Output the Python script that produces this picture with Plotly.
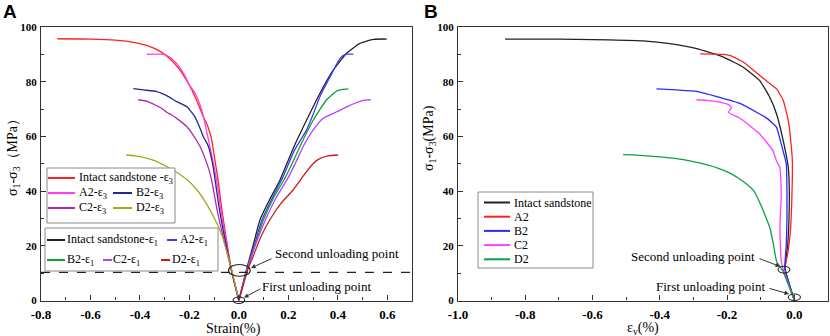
import plotly.graph_objects as go

# ---------------- data ----------------
# Panel A : lateral strain branch (epsilon_3), stress sigma1-sigma3 (MPa)
a_intact_e3_x = [0, -0.03, -0.055, -0.07, -0.084, -0.098, -0.11, -0.125, -0.145, -0.17, -0.19, -0.215, -0.24, -0.28, -0.32, -0.37, -0.42, -0.50, -0.60, -0.734]
a_intact_e3_y = [0, 11, 25, 34, 44, 52, 58.8, 63.5, 67.5, 73, 77, 81, 84.5, 88.5, 91.2, 93.2, 94.3, 95.2, 95.6, 95.7]
a_A2_e3_x = [0, -0.03, -0.058, -0.074, -0.09, -0.105, -0.123, -0.14, -0.155, -0.175, -0.2, -0.22, -0.25, -0.28, -0.305, -0.373]
a_A2_e3_y = [0, 11, 25, 34, 44, 51, 58.8, 66, 71, 75.5, 78.8, 82.5, 86.5, 89, 90, 90]
a_B2_e3_x = [0, -0.03, -0.062, -0.08, -0.096, -0.103, -0.123, -0.144, -0.157, -0.18, -0.211, -0.251, -0.29, -0.332, -0.386, -0.427]
a_B2_e3_y = [0, 11, 25, 34, 44, 48.4, 56.3, 60, 63, 67.5, 70.9, 72.7, 74.8, 76.4, 77, 77.5]
a_C2_e3_x = [0, -0.03, -0.068, -0.09, -0.11, -0.123, -0.157, -0.185, -0.211, -0.25, -0.275, -0.292, -0.312, -0.332, -0.37, -0.407]
a_C2_e3_y = [0, 11, 25, 34, 44, 48.4, 56.3, 60.5, 63.6, 66.5, 68, 68.8, 70.3, 71.2, 72.8, 73.4]
a_D2_e3_x = [0, -0.028, -0.045, -0.063, -0.08, -0.103, -0.135, -0.17, -0.21, -0.25, -0.292, -0.33, -0.373, -0.42, -0.456]
a_D2_e3_y = [0, 11, 16.5, 22.3, 26.5, 30.8, 36, 40.5, 44.2, 46.8, 49, 50.8, 52.1, 52.9, 53.2]

# Panel A : axial strain branch (epsilon_1)
a_intact_e1_x = [0, 0.03, 0.06, 0.086, 0.125, 0.166, 0.22, 0.274, 0.328, 0.382, 0.436, 0.49, 0.544, 0.598]
a_intact_e1_y = [0, 11, 21, 29.6, 37, 44, 55.7, 66, 75.8, 84.3, 90.4, 94, 95.5, 95.6]
a_A2_e1_x = [0, 0.031, 0.065, 0.094, 0.135, 0.175, 0.225, 0.274, 0.3, 0.328, 0.37, 0.409, 0.43, 0.463]
a_A2_e1_y = [0, 11, 21, 29.6, 37.5, 44.5, 55, 62.4, 68, 74.6, 82, 88.5, 90, 90.1]
a_B2_e1_x = [0, 0.032, 0.068, 0.1, 0.14, 0.185, 0.215, 0.247, 0.301, 0.355, 0.396, 0.42, 0.443]
a_B2_e1_y = [0, 11, 21, 29.6, 37.5, 44.5, 50, 56.3, 66, 73.4, 76.6, 77.2, 77.4]
a_C2_e1_x = [0, 0.033, 0.07, 0.108, 0.15, 0.2, 0.23, 0.26, 0.301, 0.342, 0.396, 0.44, 0.477, 0.51, 0.533]
a_C2_e1_y = [0, 11, 21, 29.6, 37.5, 45, 50.5, 56.3, 62.4, 66.7, 69, 71, 72.4, 73.3, 73.4]
a_D2_e1_x = [0, 0.035, 0.058, 0.09, 0.126, 0.17, 0.22, 0.26, 0.29, 0.32, 0.36, 0.402]
a_D2_e1_y = [0, 11, 16.2, 23.5, 29.6, 35.5, 40.5, 45.5, 49, 51.5, 52.9, 53.2]

# Panel B : volumetric strain
b_intact_x = [0, -0.028, -0.02, -0.016, -0.015, -0.018, -0.033, -0.053, -0.073, -0.103, -0.152, -0.211, -0.29, -0.37, -0.449, -0.55, -0.65, -0.75, -0.86]
b_intact_y = [0, 11.5, 20, 30, 40, 48.6, 58.4, 68.2, 74.3, 80.4, 85.3, 89, 92.1, 93.9, 94.9, 95.3, 95.5, 95.6, 95.6]
b_A2_x = [0, -0.028, -0.02, -0.012, -0.008, -0.006, -0.006, -0.008, -0.018, -0.033, -0.053, -0.078, -0.103, -0.152, -0.19, -0.211, -0.24, -0.28]
b_A2_y = [0, 11.5, 17, 25, 35, 45, 51, 54.8, 65.8, 73.1, 77.4, 79.8, 82.3, 87.2, 89.5, 90, 90.1, 90.2]
b_B2_x = [0, -0.028, -0.024, -0.022, -0.022, -0.024, -0.039, -0.053, -0.08, -0.103, -0.162, -0.222, -0.291, -0.35, -0.41]
b_B2_y = [0, 12, 20.5, 30, 40, 49.9, 57.2, 63.3, 66.5, 68.2, 72.1, 74.3, 76.5, 77, 77.4]
b_C2_x = [0, -0.032, -0.039, -0.043, -0.039, -0.043, -0.053, -0.064, -0.103, -0.152, -0.167, -0.196, -0.187, -0.196, -0.222, -0.26, -0.291]
b_C2_y = [0, 11, 14.4, 26.6, 38.9, 48.6, 51, 54.8, 60.9, 65.8, 67, 68.8, 70.6, 71.6, 72.5, 73.2, 73.4]
b_D2_x = [0, -0.035, -0.053, -0.063, -0.073, -0.085, -0.1, -0.12, -0.152, -0.19, -0.23, -0.28, -0.33, -0.39, -0.45, -0.509]
b_D2_y = [0, 11, 14.4, 21, 26.6, 30.5, 35, 40, 43.5, 46.5, 48.5, 50.2, 51.5, 52.4, 53, 53.3]

second_unloading_level = 10.3

a_xticks = [-0.8, -0.6, -0.4, -0.2, 0.0, 0.2, 0.4, 0.6]
a_xticklabels = ["-0.8", "-0.6", "-0.4", "-0.2", "0.0", "0.2", "0.4", "0.6"]
b_xticks = [-1.0, -0.8, -0.6, -0.4, -0.2, 0.0]
b_xticklabels = ["-1.0", "-0.8", "-0.6", "-0.4", "-0.2", "0.0"]
yticks = [0, 20, 40, 60, 80, 100]
yticklabels = ["0", "20", "40", "60", "80", "100"]

a_series = [
    ("Intact sandstone -ε<sub>3</sub>", a_intact_e3_x, a_intact_e3_y, "#ff2020"),
    ("A2-ε<sub>3</sub>", a_A2_e3_x, a_A2_e3_y, "#ff3cf0"),
    ("B2-ε<sub>3</sub>", a_B2_e3_x, a_B2_e3_y, "#25259a"),
    ("C2-ε<sub>3</sub>", a_C2_e3_x, a_C2_e3_y, "#b02cae"),
    ("D2-ε<sub>3</sub>", a_D2_e3_x, a_D2_e3_y, "#a5a51e"),
    ("Intact sandstone-ε<sub>1</sub>", a_intact_e1_x, a_intact_e1_y, "#222222"),
    ("A2-ε<sub>1</sub>", a_A2_e1_x, a_A2_e1_y, "#3a3aff"),
    ("B2-ε<sub>1</sub>", a_B2_e1_x, a_B2_e1_y, "#10a030"),
    ("C2-ε<sub>1</sub>", a_C2_e1_x, a_C2_e1_y, "#b440ff"),
    ("D2-ε<sub>1</sub>", a_D2_e1_x, a_D2_e1_y, "#c41e1e"),
]
b_series = [
    ("Intact sandstone", b_intact_x, b_intact_y, "#222222"),
    ("A2", b_A2_x, b_A2_y, "#ff2020"),
    ("B2", b_B2_x, b_B2_y, "#2a2aff"),
    ("C2", b_C2_x, b_C2_y, "#ff40ff"),
    ("D2", b_D2_x, b_D2_y, "#10a040"),
]

# ---------------- geometry ----------------
W, H = 830, 336
A_L, A_R = 41, 412
B_L, B_R = 458, 828
P_T, P_B = 27, 300.5
A_RANGE = [-0.8, 0.7]
B_RANGE = [-1.0, 0.1]
Y_RANGE = [0, 100]
SERIF = "Liberation Serif, Times New Roman, DejaVu Serif, serif"


def px(x):
    return x / W


def py(y):
    return 1 - y / H


def a_paper_x(v):
    return px(A_L + (v - A_RANGE[0]) / (A_RANGE[1] - A_RANGE[0]) * (A_R - A_L))


def b_paper_x(v):
    return px(B_L + (v - B_RANGE[0]) / (B_RANGE[1] - B_RANGE[0]) * (B_R - B_L))


def paper_y(v):
    return py(P_B - (v - Y_RANGE[0]) / (Y_RANGE[1] - Y_RANGE[0]) * (P_B - P_T))


fig = go.Figure()
for name, xs, ys, col in a_series:
    fig.add_trace(go.Scatter(x=xs, y=ys, mode="lines", name=name,
                             line=dict(color=col, width=1.3, shape="spline", smoothing=0.5),
                             xaxis="x", yaxis="y", showlegend=False, hoverinfo="skip"))
for name, xs, ys, col in b_series:
    fig.add_trace(go.Scatter(x=xs, y=ys, mode="lines", name=name,
                             line=dict(color=col, width=1.3, shape="spline", smoothing=0.4),
                             xaxis="x2", yaxis="y2", showlegend=False, hoverinfo="skip"))

axis_common = dict(showline=True, linecolor="#333333", linewidth=1.3, mirror=True,
                   ticks="inside", ticklen=5, tickwidth=1.1, tickcolor="#333333",
                   showgrid=False, zeroline=False, automargin=False)
xfont = dict(family=SERIF, size=13, color="black", weight="bold")
yfont = dict(family=SERIF, size=11, color="black", weight="bold")
minor_x = dict(tickmode="linear", tick0=0, dtick=0.1, ticks="inside", ticklen=3,
               tickcolor="#333333", showgrid=False)
minor_y = dict(tickmode="linear", tick0=0, dtick=10, ticks="inside", ticklen=3,
               tickcolor="#333333", showgrid=False)

fig.update_layout(
    width=W, height=H, margin=dict(l=0, r=0, t=0, b=0, autoexpand=False),
    paper_bgcolor="white", plot_bgcolor="white", showlegend=False,
    font=dict(family=SERIF),
    xaxis=dict(domain=[px(A_L), px(A_R)], range=A_RANGE, anchor="y",
               tickmode="array", tickvals=a_xticks, ticktext=a_xticklabels, tickfont=xfont,
               ticklabelstandoff=2, minor=minor_x, **axis_common),
    yaxis=dict(domain=[py(P_B), py(P_T)], range=Y_RANGE, anchor="x",
               tickmode="array", tickvals=yticks, ticktext=yticklabels, tickfont=yfont,
               ticklabelstandoff=1, minor=minor_y, **axis_common),
    xaxis2=dict(domain=[px(B_L), px(B_R)], range=B_RANGE, anchor="y2",
                tickmode="array", tickvals=b_xticks, ticktext=b_xticklabels, tickfont=xfont,
                ticklabelstandoff=2, minor=minor_x, **axis_common),
    yaxis2=dict(domain=[py(P_B), py(P_T)], range=Y_RANGE, anchor="x2",
                tickmode="array", tickvals=yticks, ticktext=yticklabels, tickfont=yfont,
                ticklabelstandoff=1, minor=minor_y, **axis_common),
)

shapes = []
annotations = []

# dashed level of the second unloading point (panel A)
shapes.append(dict(type="line", xref="x domain", yref="y", x0=0, x1=1,
                   y0=second_unloading_level, y1=second_unloading_level,
                   line=dict(color="#222222", width=1.4, dash="dash")))


def ellipse(fx, cx, cy, w, h):
    shapes.append(dict(type="circle", xref="paper", yref="paper",
                       x0=fx(cx - w / 2), x1=fx(cx + w / 2),
                       y0=paper_y(cy - h / 2), y1=paper_y(cy + h / 2),
                       line=dict(color="#222222", width=1.1)))


ellipse(a_paper_x, 0.002, 11.0, 0.088, 4.3)
ellipse(a_paper_x, 0.0, 0.1, 0.047, 2.4)
ellipse(b_paper_x, -0.031, 11.3, 0.035, 2.5)
ellipse(b_paper_x, 0.0, 1.2, 0.036, 2.4)


def note(text, x_px, y_px):
    annotations.append(dict(text=text, xref="paper", yref="paper", x=px(x_px), y=py(y_px),
                            xanchor="left", yanchor="middle", showarrow=False, borderpad=0,
                            font=dict(family=SERIF, size=13, color="black")))


def arrow(head, tail):
    annotations.append(dict(text="", xref="paper", yref="paper", x=px(head[0]), y=py(head[1]),
                            ax=tail[0] - head[0], ay=tail[1] - head[1], axref="pixel", ayref="pixel",
                            showarrow=True, arrowhead=2, arrowsize=0.9, arrowwidth=1,
                            arrowcolor="#333333", standoff=0, startstandoff=0))


note("Second unloading point", 274, 253)
arrow((251, 268), (273, 258))
note("First unloading point", 261, 286)
arrow((244, 297.5), (262, 288))
note("Second unloading point", 630, 256)
arrow((780, 266.5), (758, 258))
note("First unloading point", 655, 286)
arrow((789, 294), (768, 288))


# ---------------- legends (drawn boxes with line samples) ----------------
def legend_box(x0, y0, x1, y1):
    shapes.append(dict(type="rect", xref="paper", yref="paper", x0=px(x0), x1=px(x1),
                       y0=py(y1), y1=py(y0), line=dict(color="#8a8a8a", width=1),
                       fillcolor="white", layer="above"))


def legend_item(series, line_x0, line_x1, y_px, text_x):
    name, _, _, col = series
    shapes.append(dict(type="line", xref="paper", yref="paper", x0=px(line_x0), x1=px(line_x1),
                       y0=py(y_px), y1=py(y_px), line=dict(color=col, width=2), layer="above"))
    annotations.append(dict(text=name, xref="paper", yref="paper", x=px(text_x), y=py(y_px),
                            xanchor="left", yanchor="middle", showarrow=False, borderpad=0,
                            font=dict(family=SERIF, size=12, color="black")))


legend_box(47, 168, 175, 223)
legend_item(a_series[0], 48, 75, 178, 78)
legend_item(a_series[1], 48, 75, 193, 78)
legend_item(a_series[2], 113, 132, 193, 135)
legend_item(a_series[3], 48, 75, 208, 78)
legend_item(a_series[4], 113, 132, 208, 135)

legend_box(45, 228, 218, 271)
legend_item(a_series[5], 47, 65, 240, 66)
legend_item(a_series[6], 167, 177, 240, 179)
legend_item(a_series[7], 47, 65, 260, 66)
legend_item(a_series[8], 103, 112, 260, 112)
legend_item(a_series[9], 161, 170, 260, 171)

legend_box(478, 192, 593, 268)
for i, s in enumerate(b_series):
    legend_item(s, 484, 510, 202.5 + i * 14.2, 513)

# ---------------- axis titles & panel letters ----------------
annotations.append(dict(text="Strain(%)", xref="paper", yref="paper", x=px(233), y=py(329),
                        xanchor="center", yanchor="middle", showarrow=False,
                        font=dict(family=SERIF, size=14, color="black")))
annotations.append(dict(text="ε<sub>v</sub>(%)", xref="paper", yref="paper", x=px(643), y=py(328),
                        xanchor="center", yanchor="middle", showarrow=False,
                        font=dict(family=SERIF, size=14, color="black")))
annotations.append(dict(text="σ<sub>1</sub>-σ<sub>3</sub>（MPa）", xref="paper", yref="paper",
                        x=px(14), y=py(154), xanchor="center", yanchor="middle", textangle=-90,
                        showarrow=False, font=dict(family=SERIF, size=14, color="black")))
annotations.append(dict(text="σ<sub>1</sub>-σ<sub>3</sub>(MPa)", xref="paper", yref="paper",
                        x=px(429), y=py(138), xanchor="center", yanchor="middle", textangle=-90,
                        showarrow=False, font=dict(family=SERIF, size=14, color="black")))
annotations.append(dict(text="<b>A</b>", xref="paper", yref="paper", x=px(1), y=py(12),
                        xanchor="left", yanchor="middle", showarrow=False,
                        font=dict(family="Liberation Sans, Arial, sans-serif", size=19, color="black")))
annotations.append(dict(text="<b>B</b>", xref="paper", yref="paper", x=px(422), y=py(12),
                        xanchor="left", yanchor="middle", showarrow=False,
                        font=dict(family="Liberation Sans, Arial, sans-serif", size=19, color="black")))

fig.update_layout(shapes=shapes, annotations=annotations)
fig.write_html("out.html", config={"displayModeBar": False},
               post_script="document.body.style.margin='0';document.body.style.overflow='hidden';")
